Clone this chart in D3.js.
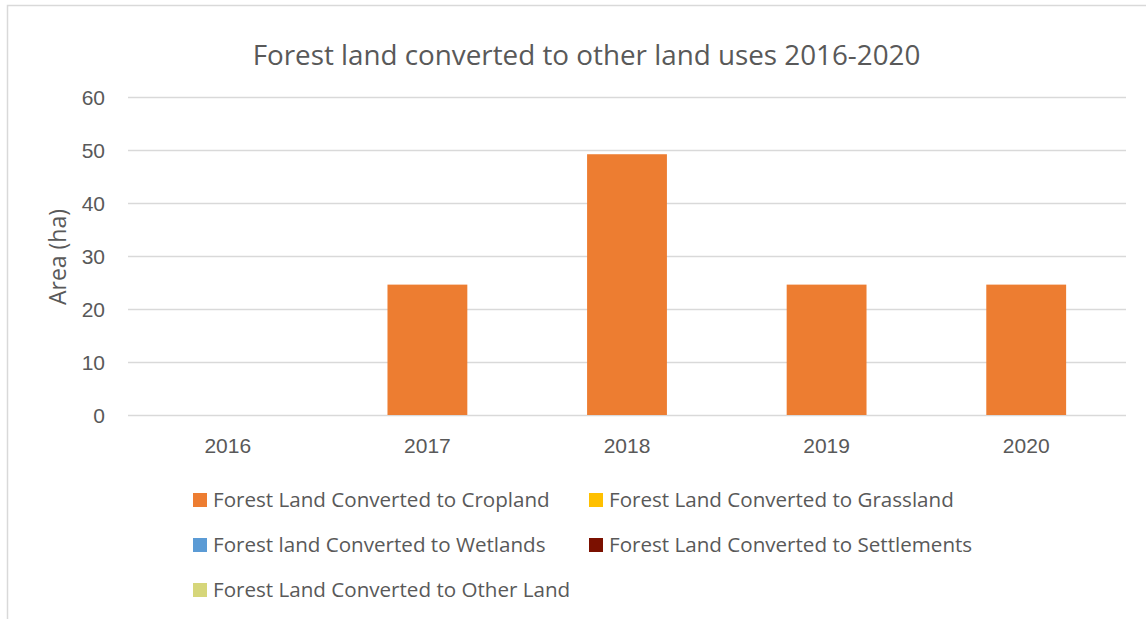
<!DOCTYPE html>
<html>
<head>
<meta charset="utf-8">
<script src="https://cdn.jsdelivr.net/npm/d3@7"></script>
<style>
  html, body { margin: 0; padding: 0; background: #fff; }
  svg { display: block; font-family: "Open Sans", "Liberation Sans", sans-serif; }
</style>
</head>
<body>
<svg id="chart" width="1146" height="619"></svg>
<script>
const title = "Forest land converted to other land uses 2016-2020";
const yAxisTitle = "Area (ha)";
const years = ["2016", "2017", "2018", "2019", "2020"];
const seriesNames = [
  "Forest Land Converted to Cropland",
  "Forest Land Converted to Grassland",
  "Forest land Converted to Wetlands",
  "Forest Land Converted to Settlements",
  "Forest Land Converted to Other Land"
];
const cropland    = [0, 24.6, 49.2, 24.6, 24.6];
const grassland   = [0, 0, 0, 0, 0];
const wetlands    = [0, 0, 0, 0, 0];
const settlements = [0, 0, 0, 0, 0];
const otherLand   = [0, 0, 0, 0, 0];
const seriesColors = ["#ED7D31", "#FFC000", "#5B9BD5", "#7B1000", "#D6D67A"];
const yTicks = [0, 10, 20, 30, 40, 50, 60];

const seriesValues = [cropland, grassland, wetlands, settlements, otherLand];
const table = years.map((y, i) => {
  const row = { year: y };
  seriesNames.forEach((s, k) => row[s] = seriesValues[k][i]);
  return row;
});

const svg = d3.select("#chart");
const textColor = "#595959";

// outer frame (top and left visible)
svg.append("path")
  .attr("d", "M7.5,619 L7.5,5.5 L1146,5.5")
  .attr("fill", "none").attr("stroke", "#d9d9d9").attr("stroke-width", 1.5);

const plot = { left: 128, right: 1126, top: 97, bottom: 415 };

const x = d3.scaleBand().domain(years).range([plot.left, plot.right]).paddingInner(0.6).paddingOuter(0.3);
const y = d3.scaleLinear().domain([0, 60]).range([plot.bottom, plot.top]);

// gridlines
const yAxis = d3.axisLeft(y).tickValues(yTicks).tickSize(-(plot.right - plot.left)).tickPadding(23);
const gy = svg.append("g").attr("transform", `translate(${plot.left},0)`).call(yAxis);
gy.select(".domain").remove();
gy.selectAll(".tick line").attr("stroke", "#d9d9d9").attr("stroke-width", 1.3);
gy.selectAll(".tick text").attr("fill", textColor).style("font-size", "21px").attr("dy", "0.36em");

// stacked bars
const stack = d3.stack().keys(seriesNames)(table);
svg.append("g").selectAll("g").data(stack).join("g")
  .attr("fill", (d, i) => seriesColors[i])
  .selectAll("rect").data(d => d).join("rect")
  .attr("x", d => x(d.data.year))
  .attr("width", x.bandwidth())
  .attr("y", d => y(d[1]))
  .attr("height", d => Math.max(0, y(d[0]) - y(d[1])));

// x axis labels
const xAxis = d3.axisBottom(x).tickSize(0).tickPadding(0);
const gx = svg.append("g").attr("transform", `translate(0,${plot.bottom})`).call(xAxis);
gx.select(".domain").remove();
gx.selectAll(".tick text").attr("fill", textColor).style("font-size", "21px").attr("dy", "38px");

// title
svg.append("text").attr("x", 586.5).attr("y", 65).attr("text-anchor", "middle")
  .attr("fill", textColor).style("font-size", "27.8px").text(title);

// y axis title
svg.append("text").attr("transform", "translate(66,257) rotate(-90)")
  .attr("text-anchor", "middle").attr("fill", textColor).style("font-size", "23px").text(yAxisTitle);

// legend
const legendPos = [[193, 500], [589, 500], [193, 545], [589, 545], [193, 590]];
const lg = svg.append("g").selectAll("g").data(seriesNames).join("g")
  .attr("transform", (d, i) => `translate(${legendPos[i][0]},${legendPos[i][1]})`);
lg.append("rect").attr("x", 0).attr("y", -7).attr("width", 14).attr("height", 14)
  .attr("fill", (d, i) => seriesColors[i]);
lg.append("text").attr("x", 20).attr("y", 0).attr("dy", "0.36em")
  .attr("fill", textColor).style("font-size", "20.6px").text(d => d);
</script>
</body>
</html>
